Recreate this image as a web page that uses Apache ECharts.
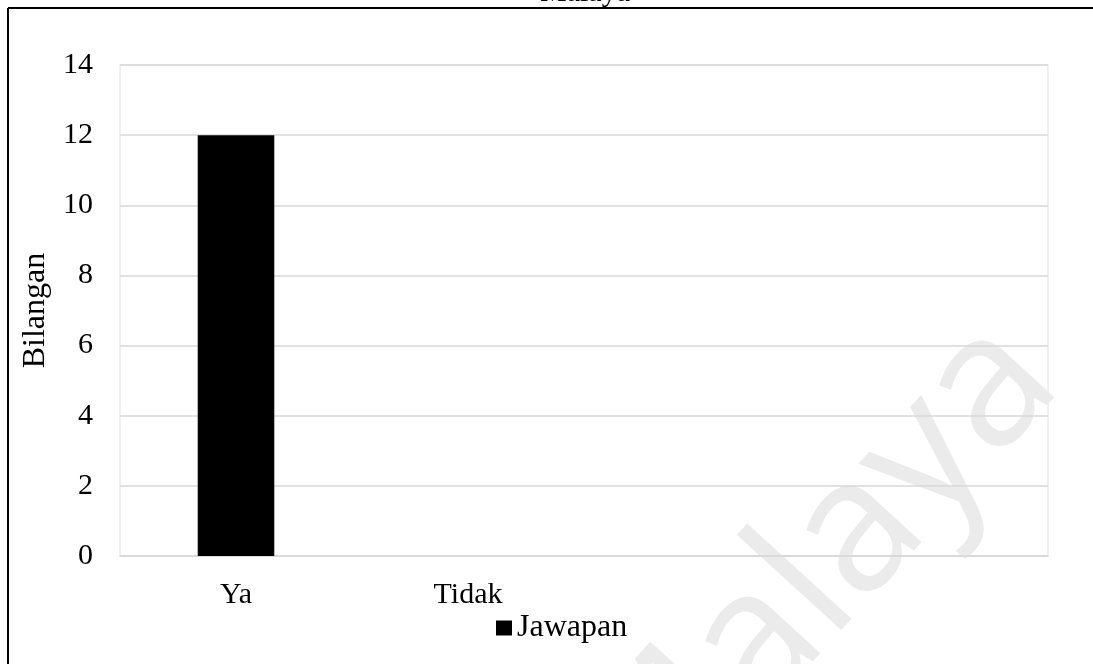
<!DOCTYPE html>
<html>
<head>
<meta charset="utf-8">
<title>Jawapan</title>
<script src="https://cdn.jsdelivr.net/npm/echarts@6/dist/echarts.min.js"></script>
<style>
  html, body { margin: 0; padding: 0; background: #fff; }
  #chart { width: 1093px; height: 664px; }
</style>
</head>
<body>
<div id="chart"></div>
<script>
// kategori jawapan (dua lajur terakhir kosong seperti dalam rajah asal)
const categories = ['Ya', 'Tidak', '', '']
const jawapan = [12, 0, null, null]
const yTicks = { min: 0, max: 14, interval: 2 }

const serif = '"Liberation Serif", "Times New Roman", serif'
const chart = echarts.init(document.getElementById('chart'))

chart.setOption({
  animation: false,
  textStyle: { fontFamily: serif, color: '#000' },
  grid: {
    left: 120,
    right: 45,
    top: 65,
    bottom: 108,
    show: true,
    borderColor: '#ececec',
    borderWidth: 1.5,
  },
  legend: {
    data: ['Jawapan'],
    left: 491,
    top: 607,
    itemWidth: 16,
    itemHeight: 15,
    icon: 'rect',
    textStyle: { fontFamily: serif, fontSize: 32, color: '#000' },
  },
  xAxis: {
    type: 'category',
    data: categories,
    axisLine: { lineStyle: { color: '#d9d9d9', width: 1.5 } },
    axisTick: { show: false },
    axisLabel: { fontFamily: serif, fontSize: 30, color: '#000', margin: 24 },
  },
  yAxis: {
    type: 'value',
    min: yTicks.min,
    max: yTicks.max,
    interval: yTicks.interval,
    name: 'Bilangan',
    nameLocation: 'middle',
    nameGap: 68,
    nameTextStyle: { fontFamily: serif, fontSize: 32, color: '#000' },
    axisLine: { show: false },
    axisTick: { show: false },
    axisLabel: { fontFamily: serif, fontSize: 30, color: '#000', margin: 27 },
    splitLine: { lineStyle: { color: '#d9d9d9', width: 1.5 } },
  },
  series: [{
    name: 'Jawapan',
    type: 'bar',
    data: jawapan,
    barWidth: '33%',
    itemStyle: { color: '#000' },
  }],
  graphic: [
    // tera air
    {
      type: 'text',
      x: 817,
      y: 578,
      rotation: 0.83,
      z: -10,
      silent: true,
      style: {
        text: 'Malaya',
        font: '186px "Open Sans", sans-serif',
        fill: '#ebebeb',
        align: 'center',
        verticalAlign: 'middle',
      },
    },
    // tajuk yang terpotong di atas
    {
      type: 'text',
      x: 585,
      y: -7,
      style: {
        text: 'Malaya',
        font: '30px ' + serif,
        fill: '#000',
        align: 'center',
        verticalAlign: 'middle',
      },
    },
    // bingkai
    { type: 'line', shape: { x1: 8, y1: 8, x2: 1093, y2: 8 }, style: { stroke: '#000', lineWidth: 2 } },
    { type: 'line', shape: { x1: 8, y1: 8, x2: 8, y2: 664 }, style: { stroke: '#000', lineWidth: 2 } },
  ],
})
</script>
</body>
</html>
